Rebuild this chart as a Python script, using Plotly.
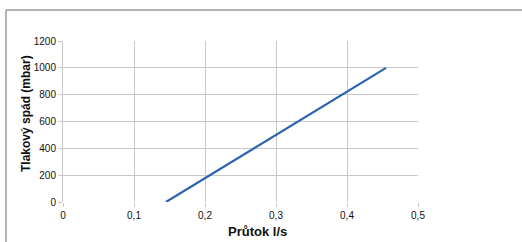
import plotly.graph_objects as go

flow = [0.145, 0.455]
pressure = [0, 1000]
x_ticks = [0, 0.1, 0.2, 0.3, 0.4, 0.5]
x_labels = ["0", "0,1", "0,2", "0,3", "0,4", "0,5"]
y_ticks = [0, 200, 400, 600, 800, 1000, 1200]

fig = go.Figure()
fig.add_trace(go.Scatter(x=flow, y=pressure, mode="lines",
                         line=dict(color="#2a62b0", width=2.2), showlegend=False))

L, R, T, B = 63, 104, 41, 40
W, H = 522, 242
pw, ph = W - L - R, H - T - B

fig.update_layout(
    width=W, height=H,
    margin=dict(l=L, r=R, t=T, b=B, autoexpand=False),
    paper_bgcolor="white", plot_bgcolor="white",
    font=dict(family="Liberation Sans, Arial", color="#111"),
    xaxis=dict(range=[0, 0.5], tickvals=x_ticks, ticktext=x_labels,
               showgrid=True, gridcolor="#c8c8c8", gridwidth=1,
               zeroline=False, showline=False, automargin=False,
               ticks="outside", ticklen=4, tickcolor="#c8c8c8",
               tickfont=dict(size=10, color="#111")),
    yaxis=dict(range=[0, 1200], tickvals=y_ticks,
               showgrid=True, gridcolor="#c8c8c8", gridwidth=1,
               zeroline=False, showline=True, linecolor="#c8c8c8",
               automargin=False,
               ticks="outside", ticklen=4, tickcolor="#c8c8c8",
               tickfont=dict(size=10, color="#111")),
)

fig.add_annotation(text="<b>Průtok l/s</b>", xref="paper", yref="paper",
                   x=(257 - L) / pw, y=-(232 - (H - B)) / ph,
                   showarrow=False, font=dict(size=13, color="#111"),
                   xanchor="center", yanchor="middle")
fig.add_annotation(text="<b>Tlakový spád (mbar)</b>", xref="paper", yref="paper",
                   x=(26 - L) / pw, y=(202 - 114) / ph, textangle=-90,
                   showarrow=False, font=dict(size=12, color="#111"),
                   xanchor="center", yanchor="middle")

# outer frame (left and top edges visible)
x0 = (6 - L) / pw
y0 = (H - B - 10) / ph
fig.add_shape(type="line", xref="paper", yref="paper", x0=x0, x1=x0, y0=y0, y1=-0.5,
              line=dict(color="#9a9a9a", width=1.5))
fig.add_shape(type="line", xref="paper", yref="paper", x0=x0, x1=2, y0=y0, y1=y0,
              line=dict(color="#9a9a9a", width=1.5))

fig.write_html("out.html", post_script="document.body.style.margin='0';",
               config={"displayModeBar": False})
